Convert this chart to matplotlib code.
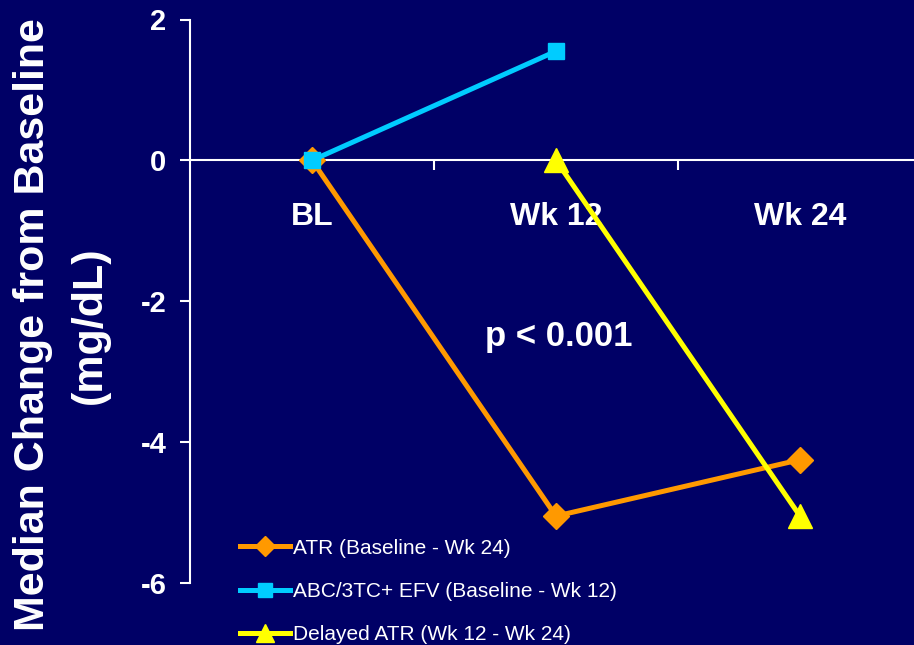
import matplotlib
matplotlib.use("Agg")
import matplotlib.pyplot as plt
from matplotlib.lines import Line2D

categories = ["BL", "Wk 12", "Wk 24"]
atr_x = [0, 1, 2]
atr_y = [0.0, -5.05, -4.25]
abc_x = [0, 1]
abc_y = [0.0, 1.55]
delayed_x = [1, 2]
delayed_y = [0.0, -5.05]
labels = ["ATR (Baseline - Wk 24)", "ABC/3TC+ EFV (Baseline - Wk 12)", "Delayed ATR (Wk 12 - Wk 24)"]
yticks = [2, 0, -2, -4, -6]

BG = "#000066"
ORANGE = "#FF9900"
CYAN = "#00CCFF"
YELLOW = "#FFFF00"

plt.rcParams['font.family'] = ['Liberation Sans', 'DejaVu Sans']

fig = plt.figure(figsize=(9.14, 6.45), dpi=100, facecolor=BG)
ax = fig.add_axes([190/914, 62/645, 1 - 190/914, (583-19.5)/645])
ax.set_facecolor(BG)

lw = 3.6
l1, = ax.plot(atr_x, atr_y, color=ORANGE, lw=lw, marker='D', ms=13, mec=ORANGE, clip_on=False, zorder=3)
l3, = ax.plot(delayed_x, delayed_y, color=YELLOW, lw=lw, marker='^', ms=17, mec=YELLOW, clip_on=False, zorder=4)
l2, = ax.plot(abc_x, abc_y, color=CYAN, lw=lw, marker='s', ms=12, mec=CYAN, clip_on=False, zorder=5)

ax.set_xlim(-0.5, 2.5 - 8/244)
ax.set_ylim(-6, 2)

for s in ['top', 'right']:
    ax.spines[s].set_visible(False)
ax.spines['bottom'].set_position(('data', 0))
ax.spines['bottom'].set_color('white')
ax.spines['left'].set_color('white')
ax.spines['bottom'].set_linewidth(1.5)
ax.spines['left'].set_linewidth(1.5)

ax.set_yticks(yticks)
ax.set_yticklabels([str(v) for v in yticks], fontsize=21, fontweight='bold', color='white')
ax.tick_params(axis='y', direction='out', length=7, width=1.5, color='white', pad=10)

ax.set_xticks([0, 1, 2])
ax.set_xticklabels(categories, fontsize=23, fontweight='bold', color='white')
ax.set_xticks([0.5, 1.5], minor=True)
ax.tick_params(axis='x', which='major', length=0, pad=30)
ax.tick_params(axis='x', which='minor', direction='out', length=7, width=1.5, color='white')

fig.text(33/914, 1 - 325/645, "Median Change from Baseline", rotation=90, ha='center', va='center',
         fontsize=31, fontweight='bold', color='white')
fig.text(90/914, 1 - 325/645, "(mg/dL)", rotation=90, ha='center', va='center',
         fontsize=31, fontweight='bold', color='white')

ax.text(1.01, -2.5, "p < 0.001", ha='center', va='center', fontsize=25, fontweight='bold', color='white')

handles = [
    Line2D([], [], color=ORANGE, lw=lw, marker='D', ms=10, mec=ORANGE),
    Line2D([], [], color=CYAN, lw=lw, marker='s', ms=10, mec=CYAN),
    Line2D([], [], color=YELLOW, lw=lw, marker='^', ms=13, mec=YELLOW),
]
leg = fig.legend(handles, labels, loc='lower left', bbox_to_anchor=(221/914, -18/645),
                 frameon=False, numpoints=1, handlelength=2.4, handletextpad=0.15,
                 labelspacing=1.17, prop={'family': ['Liberation Sans'], 'size': 15})
for t in leg.get_texts():
    t.set_color('white')

fig.savefig("out.png", dpi=100, facecolor=BG)
